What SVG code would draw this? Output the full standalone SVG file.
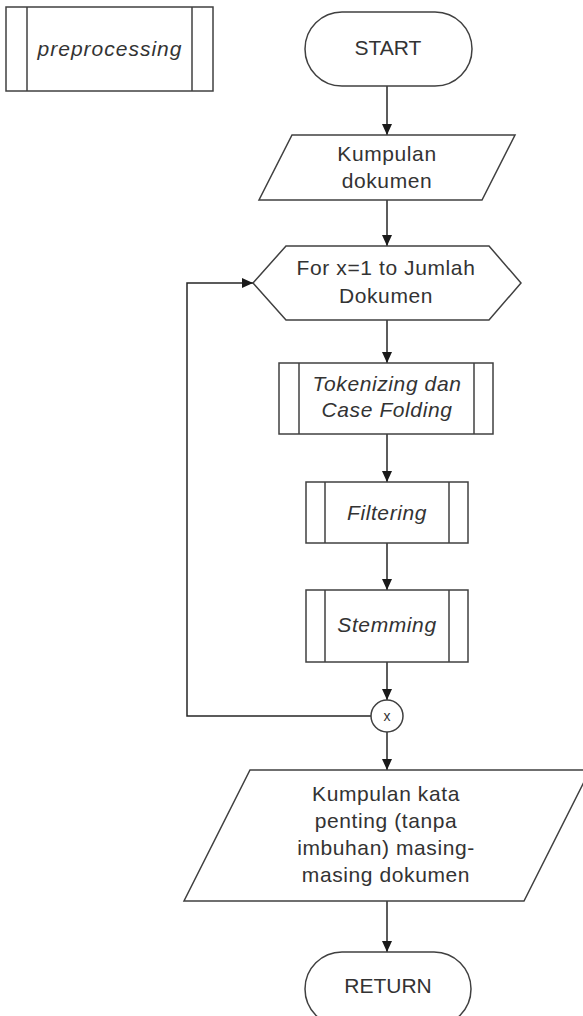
<svg xmlns="http://www.w3.org/2000/svg" width="583" height="1016" viewBox="0 0 583 1016">
<defs>
<marker id="arr" markerUnits="userSpaceOnUse" markerWidth="12" markerHeight="11" refX="11" refY="5" orient="auto">
<path d="M0,0 L11,5 L0,10 z" fill="#1a1a1a"/>
</marker>
<style>
.s{fill:#fff;stroke:#404040;stroke-width:1.5}
.l{fill:none;stroke:#404040;stroke-width:1.5}
.c{fill:none;stroke:#262626;stroke-width:1.5}
.t{font-family:"Liberation Sans",Arial,sans-serif;font-size:21px;fill:#333;text-anchor:middle;letter-spacing:0.6px}
.u{letter-spacing:0}
.i{font-style:italic}
</style>
</defs>
<rect width="583" height="1016" fill="#fff"/>
<g id="connectors">
<line class="c" x1="387" y1="86" x2="387" y2="135" marker-end="url(#arr)"/>
<line class="c" x1="387" y1="200" x2="387" y2="246" marker-end="url(#arr)"/>
<line class="c" x1="387" y1="320" x2="387" y2="363" marker-end="url(#arr)"/>
<line class="c" x1="387" y1="434" x2="387" y2="482" marker-end="url(#arr)"/>
<line class="c" x1="387" y1="543" x2="387" y2="590" marker-end="url(#arr)"/>
<line class="c" x1="387" y1="662" x2="387" y2="700" marker-end="url(#arr)"/>
<line class="c" x1="387" y1="732" x2="387" y2="770" marker-end="url(#arr)"/>
<line class="c" x1="387" y1="901" x2="387" y2="952" marker-end="url(#arr)"/>
<polyline class="c" points="371,716 187,716 187,283 253,283" marker-end="url(#arr)"/>
</g>
<g id="preprocessing">
<rect class="s" x="6" y="7" width="207" height="84"/>
<line class="l" x1="27" y1="7" x2="27" y2="91"/>
<line class="l" x1="192" y1="7" x2="192" y2="91"/>
<text class="t i" x="110" y="56" style="letter-spacing:1px">preprocessing</text>
</g>
<g id="start">
<rect class="s" x="305" y="12" width="167" height="74" rx="37"/>
<text class="t u" x="388" y="55">START</text>
</g>
<g id="kumpulan-dokumen">
<polygon class="s" points="292,135 515,135 482,200 259,200"/>
<text class="t" x="387" y="161">Kumpulan</text>
<text class="t" x="387" y="188">dokumen</text>
</g>
<g id="for-loop">
<polygon class="s" points="253,283 286,246 489,246 521,283 489,320 286,320"/>
<text class="t" x="386" y="275">For x=1 to Jumlah</text>
<text class="t" x="386" y="303">Dokumen</text>
</g>
<g id="tokenizing">
<rect class="s" x="279" y="363" width="214" height="71"/>
<line class="l" x1="299" y1="363" x2="299" y2="434"/>
<line class="l" x1="474" y1="363" x2="474" y2="434"/>
<text class="t i" x="387" y="391">Tokenizing dan</text>
<text class="t i" x="387" y="417">Case Folding</text>
</g>
<g id="filtering">
<rect class="s" x="306" y="482" width="162" height="61"/>
<line class="l" x1="325" y1="482" x2="325" y2="543"/>
<line class="l" x1="449" y1="482" x2="449" y2="543"/>
<text class="t i" x="387" y="520">Filtering</text>
</g>
<g id="stemming">
<rect class="s" x="306" y="590" width="162" height="72"/>
<line class="l" x1="325" y1="590" x2="325" y2="662"/>
<line class="l" x1="449" y1="590" x2="449" y2="662"/>
<text class="t i" x="387" y="632">Stemming</text>
</g>
<g id="connector-x">
<circle class="s" cx="387" cy="716" r="16"/>
<text class="t u" x="387" y="721" style="font-size:14px">x</text>
</g>
<g id="hasil">
<polygon class="s" points="250,770 590,770 524,901 184,901"/>
<text class="t" x="386" y="801">Kumpulan kata</text>
<text class="t" x="386" y="828">penting (tanpa</text>
<text class="t" x="386" y="855">imbuhan) masing-</text>
<text class="t" x="386" y="882">masing dokumen</text>
</g>
<g id="return">
<rect class="s" x="305" y="952" width="166" height="74" rx="37"/>
<text class="t u" x="388" y="993">RETURN</text>
</g>
</svg>
